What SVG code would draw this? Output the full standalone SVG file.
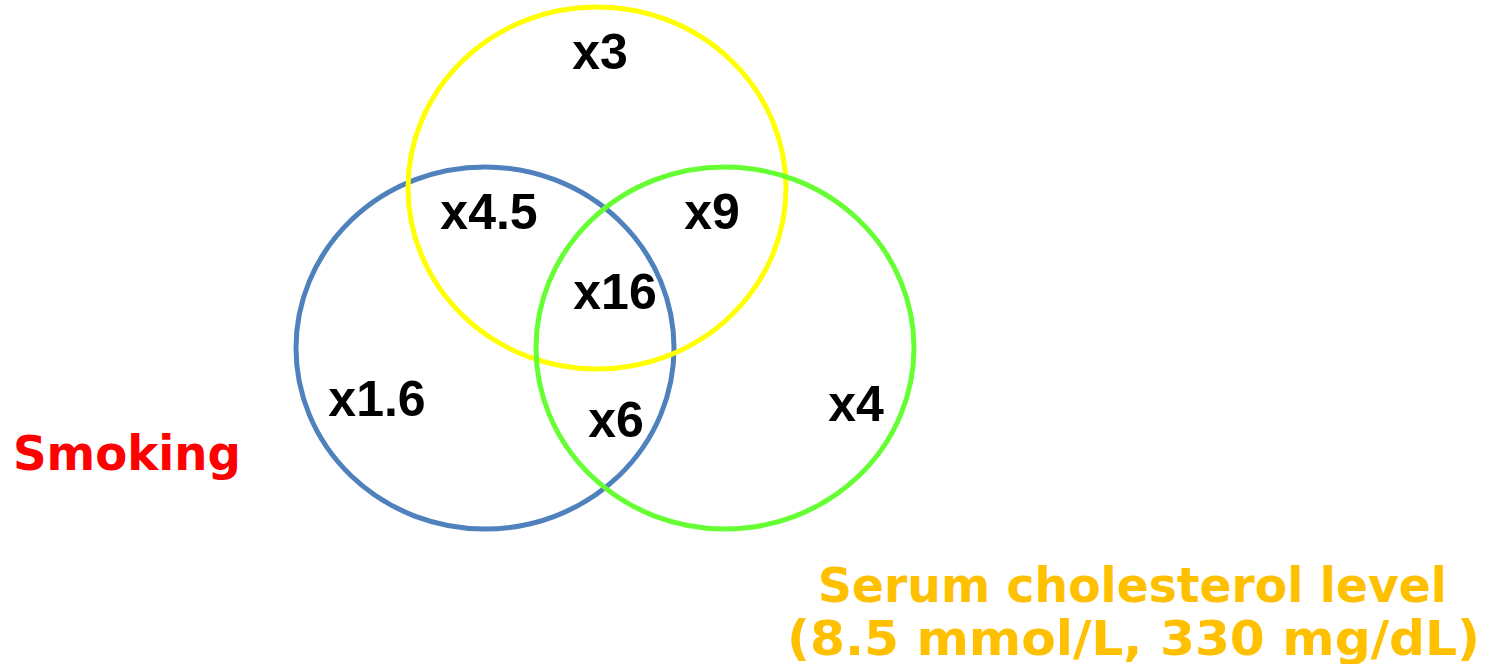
<svg xmlns="http://www.w3.org/2000/svg" width="1497" height="664" viewBox="0 0 1497 664">
<style>
.c{fill:none;stroke-width:5}
.n{font-family:"Liberation Sans",Arial,sans-serif;font-weight:bold;font-size:50px;fill:#000}
.lab{font-family:"DejaVu Sans",Verdana,sans-serif;font-weight:bold;font-size:48px}
</style>
<rect width="1497" height="664" fill="#fff"/>
<g id="smoking-circle"><ellipse class="c" cx="485" cy="348" rx="189" ry="181" stroke="#4F81BD"/></g>
<g id="yellow-circle"><ellipse class="c" cx="597" cy="188" rx="189" ry="181" stroke="#FFFF00"/></g>
<g id="cholesterol-circle"><ellipse class="c" cx="725" cy="348" rx="189" ry="181" stroke="#66FF33"/></g>
<g id="values">
<text class="n" x="600" y="69" text-anchor="middle">x3</text>
<text class="n" x="489" y="229" text-anchor="middle">x4.5</text>
<text class="n" x="712" y="229" text-anchor="middle">x9</text>
<text class="n" x="615" y="309" text-anchor="middle">x16</text>
<text class="n" x="377" y="416" text-anchor="middle">x1.6</text>
<text class="n" x="616" y="437" text-anchor="middle">x6</text>
<text class="n" x="856" y="421" text-anchor="middle">x4</text>
</g>
<g id="labels">
<text class="lab" x="13" y="470" fill="#FF0000" textLength="228" lengthAdjust="spacingAndGlyphs">Smoking</text>
<text class="lab" x="818" y="602" fill="#FFC000" textLength="629" lengthAdjust="spacingAndGlyphs">Serum cholesterol level</text>
<text class="lab" x="787" y="655" fill="#FFC000" textLength="693" lengthAdjust="spacingAndGlyphs">(8.5 mmol/L, 330 mg/dL)</text>
</g>
<g id="connectors"></g>
</svg>
